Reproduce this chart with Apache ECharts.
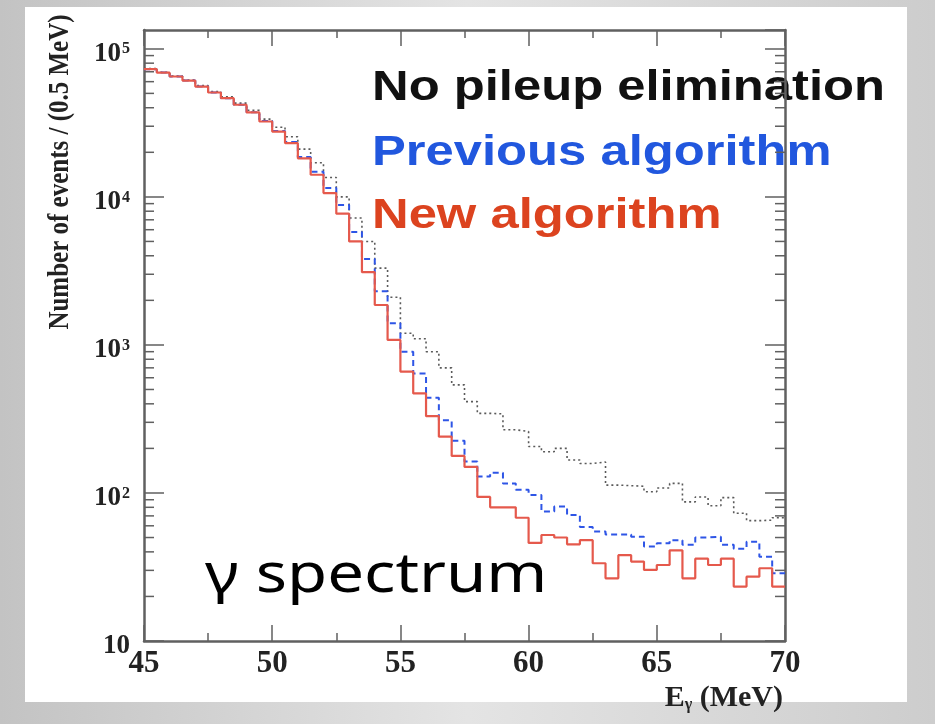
<!DOCTYPE html>
<html>
<head>
<meta charset="utf-8">
<script src="https://cdn.jsdelivr.net/npm/echarts@6/dist/echarts.min.js"></script>
<style>
  html, body { margin: 0; padding: 0; }
  #chart { width: 935px; height: 724px; }
</style>
</head>
<body>
<div id="chart"></div>
<script>
// Lower edges of the 0.5 MeV photon-energy bins
const binLowEdges = [
  45, 45.5, 46, 46.5, 47, 47.5, 48, 48.5, 49, 49.5,
  50, 50.5, 51, 51.5, 52, 52.5, 53, 53.5, 54, 54.5,
  55, 55.5, 56, 56.5, 57, 57.5, 58, 58.5, 59, 59.5,
  60, 60.5, 61, 61.5, 62, 62.5, 63, 63.5, 64, 64.5,
  65, 65.5, 66, 66.5, 67, 67.5, 68, 68.5, 69, 69.5
];
const binWidth = 0.5;

// Events per bin, no pileup elimination
const noPileupElimination = [
  73500, 69500, 65500, 61500, 56500, 51500, 47500, 43000, 38500, 33500,
  29500, 25500, 21000, 17000, 13500, 10000, 7200, 5000, 3300, 2100,
  1200, 1100, 900, 700, 537, 414, 345, 342, 267, 260,
  206, 190, 200, 167, 158, 162, 113, 112, 111, 102,
  108, 116, 87, 94, 82, 93, 73, 65, 65.5, 68
];
// Events per bin, previous pileup algorithm
const previousAlgorithm = [
  72900, 69200, 65000, 61100, 55600, 50700, 46400, 41900, 37300, 32500,
  27900, 23500, 18600, 14800, 11500, 8800, 5800, 3800, 2300, 1400,
  900, 640, 440, 310, 225, 163, 129, 137, 116, 105,
  97, 75, 81, 71, 59, 55, 52.5, 52.5, 50.7, 43.4,
  45.7, 48, 44.6, 50, 50.7, 44.6, 42, 46.9, 37.1, 28.7
];
// Events per bin, new pileup algorithm
const newAlgorithm = [
  72900, 69000, 65000, 61000, 55600, 50700, 46400, 41900, 37200, 32300,
  27600, 23100, 18200, 14100, 10600, 7700, 5000, 3100, 1860, 1080,
  660, 470, 330, 240, 178, 150, 94, 80, 80, 68,
  46, 52, 50, 45, 48, 33.5, 26.5, 38, 34.4, 30.2,
  32.6, 41, 26.5, 36, 32.6, 36, 23.3, 27.2, 31, 23.3
];

const seriesNames = ['No pileup elimination', 'Previous algorithm', 'New algorithm'];
const legendColors = ['#111111', '#2157de', '#dc431f'];
const lineColors = ['#5a5a5a', '#2e55e6', '#e5594c'];

// Axis ranges and ticks
const xRange = [45, 70];
const xMajorStep = 5;
const yRange = [10, 134000];
const yMinorTicks = [];
[10, 100, 1000, 10000].forEach(function (d) {
  [2, 3, 4, 5, 6, 7, 8, 9].forEach(function (m) { yMinorTicks.push(m * d); });
});

// Step-histogram points: each value is held over its bin
function histogramPoints(values) {
  const pts = binLowEdges.map(function (x, i) { return [x, values[i]]; });
  const last = binLowEdges.length - 1;
  pts.push([binLowEdges[last] + binWidth, values[last]]);
  return pts;
}

const serif = 'Liberation Serif';
const frameColor = '#606060';

function yLabel(value) {
  const e = Math.log10(value);
  if (Math.abs(e - Math.round(e)) > 1e-6) return '';
  const n = Math.round(e);
  if (n === 1) return '{b|10}';
  return '{b|10}{s|' + n + '}';
}

const chart = echarts.init(document.getElementById('chart'), null, { renderer: 'canvas' });

const option = {
  backgroundColor: {
    type: 'linear', x: 0, y: 0, x2: 1, y2: 0,
    colorStops: [
      { offset: 0, color: '#c3c3c3' },
      { offset: 0.5, color: '#e4e4e4' },
      { offset: 1, color: '#cdcdcd' }
    ]
  },
  animation: false,
  graphic: [
    {
      type: 'rect', z: -10, silent: true,
      shape: { x: 25, y: 7, width: 882, height: 695 },
      style: { fill: '#ffffff' }
    },
    {
      type: 'text', silent: true,
      x: 60, y: 172, rotation: Math.PI / 2, scaleY: 1.2,
      style: {
        text: 'Number of events / (0.5 MeV)',
        font: 'bold 25px "Liberation Serif"',
        fill: '#222', align: 'center', verticalAlign: 'middle'
      }
    },
    {
      type: 'text', silent: true,
      x: 783, y: 698,
      style: {
        text: '{b|E}{sub|γ}{b| (MeV)}',
        align: 'right', verticalAlign: 'middle',
        rich: {
          b: { font: 'bold 30px "Liberation Serif"', fill: '#222' },
          sub: { font: 'bold 16px "Liberation Serif"', fill: '#222', padding: [14, 0, 0, 0] }
        }
      }
    },
    {
      type: 'text', silent: true,
      x: 372, y: 88, scaleX: 1.18,
      style: { text: seriesNames[0], font: 'bold 43px "Liberation Sans"', fill: legendColors[0], verticalAlign: 'middle' }
    },
    {
      type: 'text', silent: true,
      x: 372, y: 153, scaleX: 1.18,
      style: { text: seriesNames[1], font: 'bold 43px "Liberation Sans"', fill: legendColors[1], verticalAlign: 'middle' }
    },
    {
      type: 'text', silent: true,
      x: 372, y: 216, scaleX: 1.18,
      style: { text: seriesNames[2], font: 'bold 43px "Liberation Sans"', fill: legendColors[2], verticalAlign: 'middle' }
    },
    {
      type: 'text', silent: true,
      x: 205, y: 577, scaleX: 1.21,
      style: { text: 'γ spectrum', font: '54px "Noto Sans"', fill: '#000', verticalAlign: 'middle' }
    }
  ],
  grid: { left: 144, right: 150, top: 30, bottom: 83, containLabel: false },
  xAxis: [
    {
      type: 'value', min: xRange[0], max: xRange[1], interval: xMajorStep,
      axisLine: { show: true, lineStyle: { color: frameColor, width: 2.5 } },
      axisTick: { show: true, inside: true, length: 16, lineStyle: { color: frameColor, width: 1.5 } },
      minorTick: { show: true, splitNumber: 2, length: 8, lineStyle: { color: frameColor, width: 1.5 } },
      splitLine: { show: false },
      axisLabel: {
        fontFamily: serif, fontWeight: 'bold', fontSize: 31, color: '#222', margin: 7,
        showMinLabel: true, showMaxLabel: true
      }
    },
    {
      type: 'value', position: 'top', min: xRange[0], max: xRange[1], interval: xMajorStep,
      axisLine: { show: true, lineStyle: { color: frameColor, width: 2.5 } },
      axisTick: { show: true, inside: true, length: 16, lineStyle: { color: frameColor, width: 1.5 } },
      minorTick: { show: true, splitNumber: 2, length: 8, lineStyle: { color: frameColor, width: 1.5 } },
      splitLine: { show: false },
      axisLabel: { show: false }
    }
  ],
  yAxis: [
    {
      type: 'log', logBase: 10, min: yRange[0], max: yRange[1],
      axisLine: { show: true, lineStyle: { color: frameColor, width: 2.5 } },
      axisTick: { show: true, inside: true, length: 20, lineStyle: { color: frameColor, width: 1.5 } },
      splitLine: { show: false },
      axisLabel: {
        formatter: yLabel, margin: 14, showMinLabel: true, showMaxLabel: false,
        rich: {
          b: { fontFamily: serif, fontWeight: 'bold', fontSize: 27, color: '#222', lineHeight: 27, padding: [10, 0, 0, 0] },
          s: { fontFamily: serif, fontWeight: 'bold', fontSize: 16, color: '#222', lineHeight: 16, verticalAlign: 'top', padding: [6, 0, 0, 1] }
        }
      }
    },
    {
      type: 'log', logBase: 10, min: yRange[0], max: yRange[1], position: 'right',
      axisLine: { show: true, lineStyle: { color: frameColor, width: 2.5 } },
      axisTick: { show: true, inside: true, length: 20, lineStyle: { color: frameColor, width: 1.5 } },
      splitLine: { show: false },
      axisLabel: { show: false }
    }
  ],
  series: [
    {
      name: seriesNames[0], type: 'line', step: 'end', symbol: 'none',
      data: histogramPoints(noPileupElimination),
      lineStyle: { color: lineColors[0], width: 1.6, type: [2, 3] }, z: 3
    },
    {
      name: seriesNames[1], type: 'line', step: 'end', symbol: 'none',
      data: histogramPoints(previousAlgorithm),
      lineStyle: { color: lineColors[1], width: 2, type: [6, 4] }, z: 4
    },
    {
      name: seriesNames[2], type: 'line', step: 'end', symbol: 'none',
      data: histogramPoints(newAlgorithm),
      lineStyle: { color: lineColors[2], width: 2.2 }, z: 5
    },
    {
      // minor ticks at 2..9 × 10^n on the left and right frame
      type: 'custom', silent: true, z: 6,
      data: yMinorTicks.map(function (v) { return [xRange[0], v]; }),
      encode: { x: 0, y: 1 },
      renderItem: function (params, api) {
        const left = api.coord([xRange[0], api.value(1)]);
        const right = api.coord([xRange[1], api.value(1)]);
        const style = { stroke: frameColor, lineWidth: 1.5 };
        return {
          type: 'group',
          children: [
            { type: 'line', shape: { x1: left[0], y1: left[1], x2: left[0] + 10, y2: left[1] }, style: style },
            { type: 'line', shape: { x1: right[0], y1: right[1], x2: right[0] - 10, y2: right[1] }, style: style }
          ]
        };
      }
    }
  ]
};

chart.setOption(option);
</script>
</body>
</html>
